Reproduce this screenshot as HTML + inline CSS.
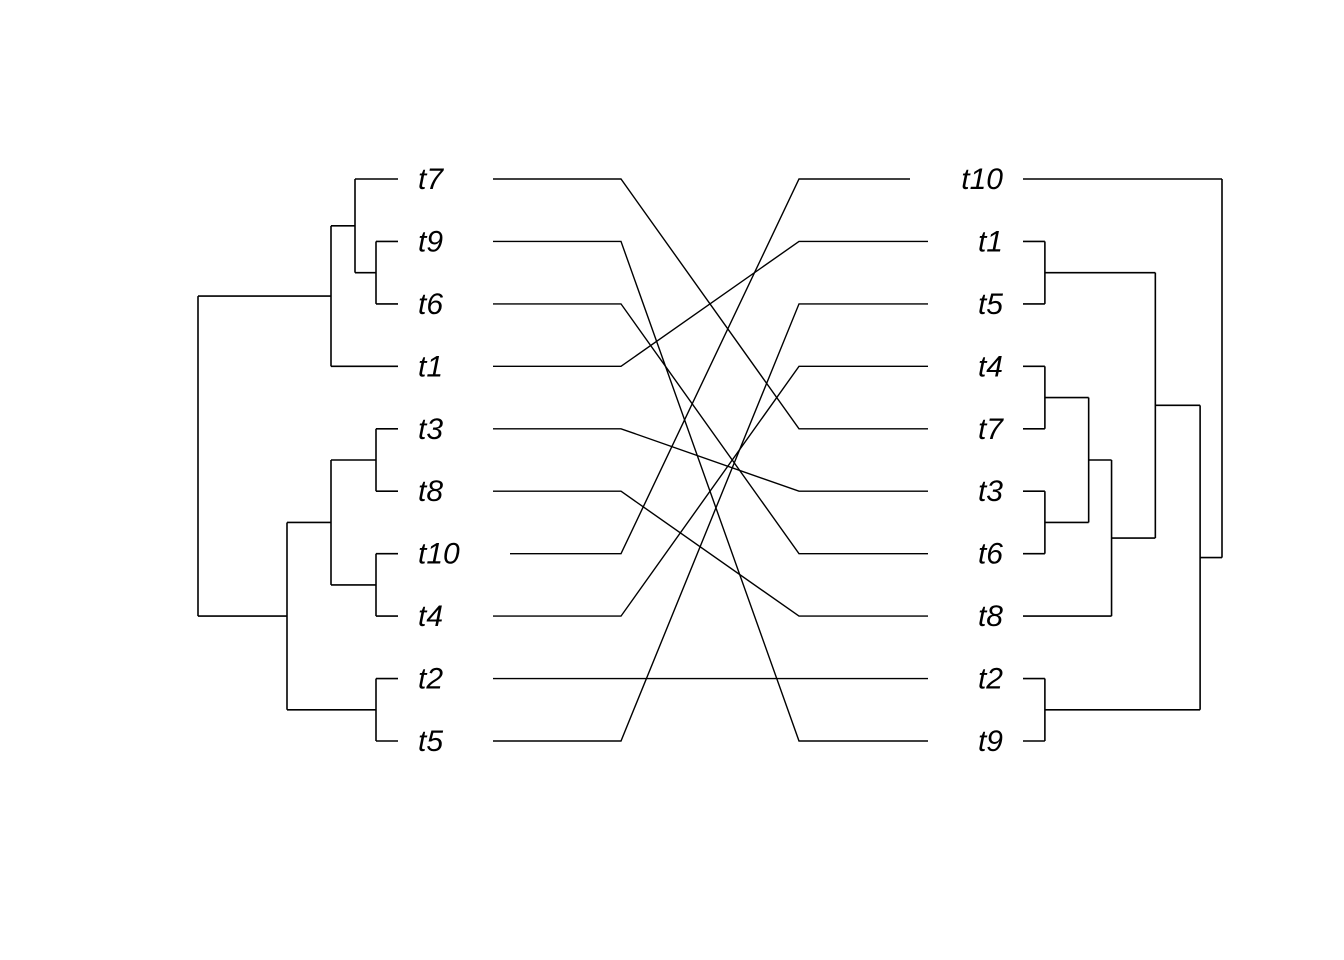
<!DOCTYPE html>
<html><head><meta charset="utf-8"><style>
html,body{margin:0;padding:0;background:#fff;}
svg{display:block;}
text{font-family:"Liberation Sans",sans-serif;font-style:italic;font-size:30px;fill:#000;}
</style></head><body>
<svg id="chart" width="1344" height="960" viewBox="0 0 1344 960" xmlns="http://www.w3.org/2000/svg"></svg>
<script>
const leftTips = ["t7","t9","t6","t1","t3","t8","t10","t4","t2","t5"];
const rightTips = ["t10","t1","t5","t4","t7","t3","t6","t8","t2","t9"];
// tree topologies with node depths (0 = root, 1 = tips)
const leftTree = {d:0,c:[{d:0.665,c:[{d:0.785,c:["t7",{d:0.89,c:["t9","t6"]}]},"t1"]},{d:0.445,c:[{d:0.665,c:[{d:0.89,c:["t3","t8"]},{d:0.89,c:["t10","t4"]}]},{d:0.89,c:["t2","t5"]}]}]};
const rightTree = {d:0,c:["t10",{d:0.11,c:[{d:0.335,c:[{d:0.89,c:["t1","t5"]},{d:0.555,c:[{d:0.67,c:[{d:0.89,c:["t4","t7"]},{d:0.89,c:["t3","t6"]}]},"t8"]}]},{d:0.89,c:["t2","t9"]}]}]};

const svg = document.getElementById('chart');
const NS = 'http://www.w3.org/2000/svg';
const y = i => 179 + i * (741 - 179) / 9;
const xl = d => 198 + d * 200;
const xr = d => 1222 - d * 199;

function line(x1,y1,x2,y2,name){
  const l=document.createElementNS(NS,'line');
  l.setAttribute('x1',x1);l.setAttribute('y1',y1);l.setAttribute('x2',x2);l.setAttribute('y2',y2);
  l.setAttribute('stroke','#000');l.setAttribute('stroke-width','1.6');
  
  
  svg.appendChild(l);
}
function draw(node, tips, xs, parentX, side){
  if (typeof node === 'string'){
    const yy = y(tips.indexOf(node));
    line(parentX, yy, xs(1), yy, side+'-branch-'+node);
    return yy;
  }
  const x = xs(node.d);
  const ys = node.c.map(ch => draw(ch, tips, xs, x, side));
  const mid = (ys[0] + ys[ys.length-1]) / 2;
  line(x, Math.min(...ys), x, Math.max(...ys), side+'-node-vertical');
  if (parentX !== null) line(parentX, mid, x, mid, side+'-internal-branch');
  return mid;
}
draw(leftTree, leftTips, xl, null, 'left');
draw(rightTree, rightTips, xr, null, 'right');

leftTips.forEach((t,i)=>{
  const tx=document.createElementNS(NS,'text');
  tx.setAttribute('x',418);tx.setAttribute('y',y(i)+10);tx.textContent=t;
  
  
  svg.appendChild(tx);
});
rightTips.forEach((t,i)=>{
  const tx=document.createElementNS(NS,'text');
  tx.setAttribute('x',1003);tx.setAttribute('y',y(i)+10);tx.setAttribute('text-anchor','end');tx.textContent=t;
  
  
  svg.appendChild(tx);
});
// association links
leftTips.forEach((t,i)=>{
  const j = rightTips.indexOf(t);
  const y1=y(i), y2=y(j);
  const sx = t.length>2 ? 510 : 493;
  const ex = rightTips[j].length>2 ? 910 : 928;
  const p=document.createElementNS(NS,'polyline');
  p.setAttribute('points',`${sx},${y1} 621,${y1} 799,${y2} ${ex},${y2}`);
  p.setAttribute('fill','none');p.setAttribute('stroke','#000');p.setAttribute('stroke-width','1.4');
  
  
  svg.appendChild(p);
});
</script>
</body></html>
